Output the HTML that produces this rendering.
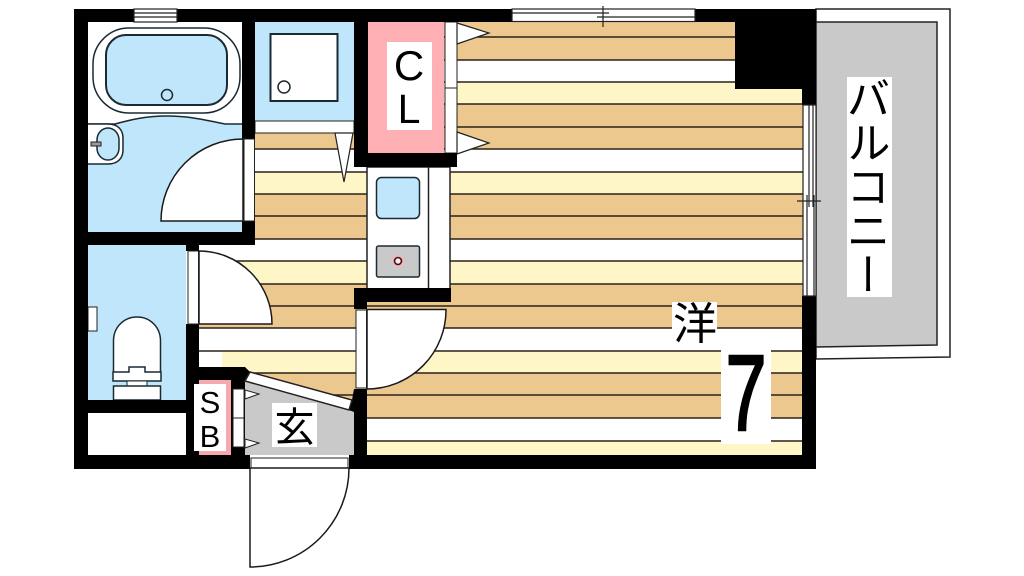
<!DOCTYPE html>
<html><head><meta charset="utf-8"><style>
html,body{margin:0;padding:0;background:#fff;width:1024px;height:576px;overflow:hidden}
svg{display:block}
text{fill:#000}
.l{font-family:"Liberation Sans",sans-serif}
.j{font-family:"Liberation Sans","Noto Sans CJK JP",sans-serif}
</style></head><body>
<svg width="1024" height="576" viewBox="0 0 1024 576" xmlns="http://www.w3.org/2000/svg">
<rect width="1024" height="576" fill="#fff"/>
<!-- balcony -->
<path d="M816 9H950V357L816 359Z" fill="#fff" stroke="#222" stroke-width="1.5"/>
<path d="M816 22H937V345L816 347Z" fill="#c9c9c9" stroke="#222" stroke-width="1.5"/>
<!-- floor stripes -->
<g fill="#ecc88e">
<rect x="199" y="22" width="604" height="38"/>
<rect x="199" y="104" width="604" height="45"/>
<rect x="199" y="194" width="604" height="45"/>
<rect x="199" y="284" width="604" height="44"/>
<rect x="199" y="373" width="604" height="45"/>
</g>
<g fill="#fff6c8">
<rect x="199" y="82" width="604" height="22"/>
<rect x="199" y="172" width="604" height="22"/>
<rect x="199" y="261" width="604" height="23"/>
<rect x="222" y="351" width="581" height="22"/>
<rect x="199" y="441" width="604" height="14"/>
</g>
<g stroke="#2a2118" stroke-width="1.5">
<path d="M199 37H803M199 60H803M199 82H803M199 104H803M199 127H803M199 149H803M199 172H803M199 194H803M199 216H803M199 239H803M199 261H803M199 284H803M199 306H803M199 328H803M199 351H803M199 373H803M199 395H803M199 418H803M199 441H803" fill="none"/>
</g>
<!-- bath -->
<rect x="88" y="22" width="154" height="210" fill="#bfe6fa"/>
<path d="M88 22H242V124H225C205 120 190 116 167 116C145 116 130 120 115 124H88Z" fill="#fff"/>
<path d="M88 124H115C130 120 145 116 167 116C190 116 205 120 225 124H242" fill="none" stroke="#1a2a33" stroke-width="1.5"/>
<rect x="93" y="28" width="147" height="85" rx="36" fill="#fff" stroke="#1a2a33" stroke-width="1.5"/>
<rect x="106" y="35" width="121" height="70" rx="20" fill="#bfe6fa" stroke="#1a2a33" stroke-width="2"/>
<circle cx="167" cy="95" r="5.5" fill="#bfe6fa" stroke="#1a2a33" stroke-width="1.5"/>
<path d="M88 124H108C118 124 123 130 123 138V150C123 158 118 164 108 164H88" fill="#fff" stroke="#1a2a33" stroke-width="1.5"/>
<rect x="97" y="128" width="22" height="32" rx="11" ry="12" fill="#bfe6fa" stroke="#1a2a33" stroke-width="1.5"/>
<rect x="91" y="142" width="10" height="4" fill="#999" stroke="#222"/>
<!-- washroom -->
<rect x="255" y="22" width="99" height="99" fill="#bfe6fa"/>
<rect x="255" y="121" width="99" height="12" fill="#fff" stroke="#222" stroke-width="1"/>
<rect x="270.500" y="34" width="67" height="67" fill="#fff" stroke="#1a2a33" stroke-width="2"/>
<circle cx="284" cy="87" r="6" fill="#fff" stroke="#1a2a33" stroke-width="1.5"/>
<path d="M335 133H353L344 182Z" fill="#fff" stroke="#222" stroke-width="1.2"/>
<!-- toilet -->
<rect x="88" y="245" width="98" height="155" fill="#bfe6fa"/>
<rect x="88" y="413" width="98" height="42" fill="#fff"/>
<rect x="88" y="307" width="9" height="24" fill="#fff" stroke="#222"/>
<path d="M113.500 372V341C113.500 327 124 317 137 317C150 317 160.500 327 160.500 341V372" fill="#fff" stroke="#1a2a33" stroke-width="1.5"/>
<path d="M113 372H129V367H145V372H161V381H113Z" fill="#fff" stroke="#1a2a33" stroke-width="1.5"/>
<rect x="127" y="381" width="20" height="5" fill="#fff" stroke="#1a2a33" stroke-width="1"/>
<path d="M113.500 400V386H160.500V400Z" fill="#fff" stroke="#1a2a33" stroke-width="1.5"/>
<!-- hall whites -->
<rect x="199" y="352" width="23" height="20" fill="#fff"/>
<!-- closet -->
<rect x="368" y="22" width="76" height="131" fill="#ffb0b4"/>
<rect x="387" y="42" width="45" height="88" fill="#fff"/>
<rect x="445" y="22" width="12" height="131" fill="#fff" stroke="#222" stroke-width="1"/>
<path d="M445 88H457" stroke="#222" stroke-width="1"/>
<path d="M457 23L489 33L457 44Z M457 132L489 143L457 154Z" fill="#fff" stroke="#222" stroke-width="1.2"/>
<!-- kitchen -->
<rect x="367" y="167" width="83" height="122" fill="#fff" stroke="#222" stroke-width="1.5"/>
<path d="M428.500 167V288" stroke="#222" stroke-width="1.5"/>
<rect x="376.500" y="177.500" width="43" height="41" rx="5" fill="#bfe6fa" stroke="#1a2a33" stroke-width="1.5"/>
<rect x="376.500" y="246" width="43" height="31" rx="2" fill="#c9c9c9" stroke="#1a2a33" stroke-width="1.5"/>
<circle cx="398" cy="261" r="6" fill="#f3b7bb"/>
<circle cx="398" cy="261" r="3.500" fill="#eee" stroke="#401015" stroke-width="1.6"/>
<!-- entry -->
<path d="M245 382L354 410V455H245Z" fill="#c9c9c9"/>
<!-- walls -->
<g fill="#000">
<rect x="74" y="9" width="14" height="460"/>
<rect x="74" y="9" width="60" height="13"/>
<rect x="177" y="9" width="335" height="13"/>
<rect x="695" y="9" width="121" height="13"/>
<rect x="735" y="9" width="81" height="80"/>
<rect x="802" y="9" width="14" height="96"/>
<rect x="802" y="296" width="14" height="173"/>
<rect x="74" y="455" width="176" height="14"/>
<rect x="349" y="455" width="467" height="14"/>
<rect x="242" y="9" width="13" height="130"/>
<rect x="242" y="221" width="13" height="24"/>
<rect x="74" y="232" width="181" height="13"/>
<rect x="354" y="9" width="14" height="158"/>
<rect x="354" y="153" width="103" height="14"/>
<rect x="354" y="288" width="97" height="14"/>
<rect x="354" y="288" width="13" height="21"/>
<rect x="74" y="400" width="125" height="13"/>
<rect x="186" y="245" width="13" height="6"/>
<rect x="186" y="324" width="13" height="145"/>
<rect x="186" y="367" width="59" height="13"/>
<rect x="231" y="367" width="14" height="100"/>
<path d="M245 367L250 372L245 382Z"/>
<path d="M352 400L354 389H367V469H349V455H354V412L349 410Z"/>
</g>
<rect x="199" y="380" width="32" height="75" fill="#f5a9ae"/>
<rect x="194" y="384" width="32" height="67" fill="#fff"/>
<rect x="233" y="389" width="11" height="58" fill="#fff" stroke="#222" stroke-width="1"/>
<path d="M233 418H244" stroke="#222" stroke-width="1"/>
<path d="M245 390L259 394L245 399Z M245 439L259 443L245 448Z" fill="#fff" stroke="#222" stroke-width="1"/>
<!-- windows -->
<g fill="#fff" stroke="#222" stroke-width="1.2">
<rect x="134" y="9" width="43" height="13"/>
<path d="M134 13H177M134 17H177" fill="none"/>
<rect x="512" y="9" width="183" height="12.500"/>
<path d="M512 13H609M597 17H695" fill="none"/>
<rect x="803" y="105" width="13" height="191"/>
<path d="M809 105V207M813 105V207M807 195V296M814 195V296" fill="none"/>
<path d="M603 6V27M797 201H821" fill="none"/>
</g>
<!-- door strips -->
<g fill="#fff" stroke="#222" stroke-width="1">
<rect x="244" y="139" width="10.500" height="82"/>
<rect x="188" y="251" width="10.500" height="73"/>
<rect x="356" y="310" width="10.500" height="78"/>
<rect x="251" y="458" width="97" height="11"/>
<path d="M250 372L352 400L349 410L245 381Z" stroke-width="1.5"/>
</g>
<!-- door leaves -->
<g fill="#fff" stroke="#1a1a1a" stroke-width="1.5">
<path d="M243 139A82 82 0 0 0 161 221H243Z"/>
<path d="M199 251A73 73 0 0 1 272 324H199Z"/>
<path d="M367 309.500H446A79 79 0 0 1 367 389Z"/>
<path d="M250 468H349A99 99 0 0 1 250 567Z"/>
</g>
<!-- labels -->
<rect x="847" y="77" width="45" height="220" fill="#fff"/>
<rect x="272" y="403" width="45" height="44" fill="#fff"/>
<rect x="672" y="302" width="45" height="45" fill="#fff"/>
<rect x="721" y="350" width="50" height="94" fill="#fff"/>
<text class="l" x="409" y="80" font-size="42" text-anchor="middle">C</text>
<text class="l" x="409" y="123" font-size="41" text-anchor="middle">L</text>
<text class="l" x="210" y="413" font-size="31" text-anchor="middle">S</text>
<text class="l" x="210" y="447" font-size="31" text-anchor="middle">B</text>
<text class="j" x="294.500" y="441" font-size="40" text-anchor="middle">玄</text>
<text class="j" x="695" y="339" font-size="44" text-anchor="middle">洋</text>
<text class="l" transform="translate(746,430) scale(0.68,1)" x="0" y="0" font-size="108" stroke="#000" stroke-width="2.5" text-anchor="middle">7</text>
<text class="j" x="864" y="76" font-size="44" style="writing-mode:vertical-rl;text-orientation:mixed">バルコニー</text>
</svg>
</body></html>
